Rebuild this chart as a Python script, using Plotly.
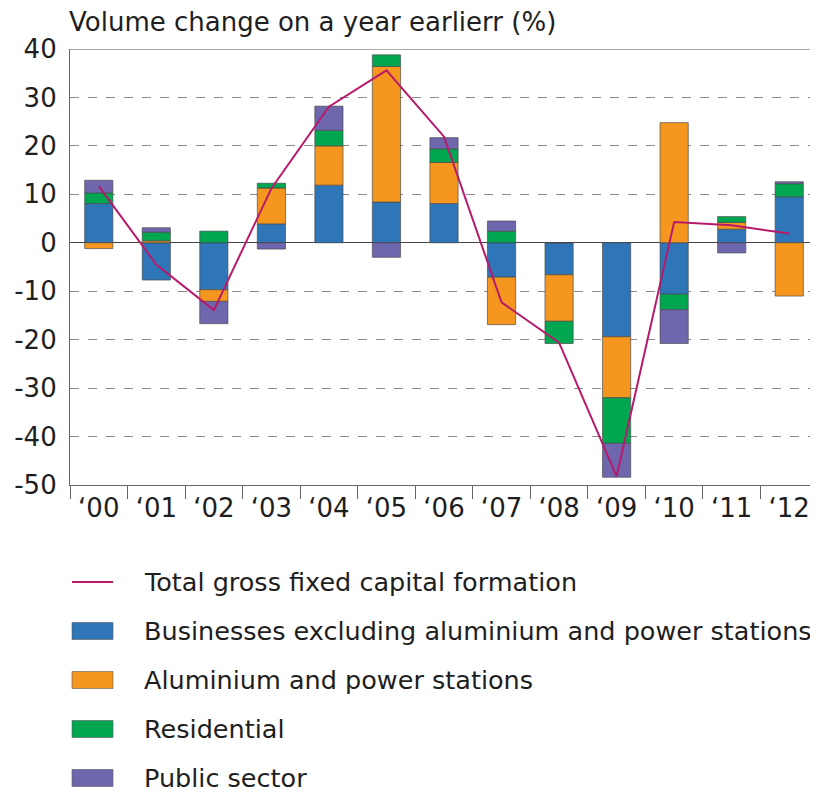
import plotly.graph_objects as go

years = ["‘00", "‘01", "‘02", "‘03", "‘04", "‘05", "‘06", "‘07", "‘08", "‘09", "‘10", "‘11", "‘12"]
total = [11.7, -4.5, -13.9, 11.2, 28.1, 35.6, 21.9, -12.3, -20.6, -48.2, 4.3, 3.6, 1.9]
business = [8.1, -7.7, -9.7, 3.9, 11.9, 8.4, 8.1, -7.1, -6.6, -19.4, -10.6, 2.8, 9.5]
aluminium = [-1.2, 0.4, -2.4, 7.4, 8.1, 28.0, 8.5, -9.8, -9.6, -12.6, 24.8, 1.4, -11.0]
residential = [2.2, 1.8, 2.4, 1.0, 3.2, 2.4, 2.8, 2.4, -4.6, -9.4, -3.2, 1.2, 2.7]
public = [2.6, 0.9, -4.6, -1.3, 5.0, -3.0, 2.3, 2.1, 0.0, -7.0, -7.0, -2.1, 0.4]

y_tickvals = [40, 30, 20, 10, 0, -10, -20, -30, -40, -50]
y_ticktext = ["40", "30", "20", "10", "0", "-10", "-20", "-30", "-40", "-50"]

names = ["Businesses excluding aluminium and power stations",
         "Aluminium and power stations", "Residential", "Public sector"]
line_name = "Total gross fixed capital formation"
title_text = "Volume change on a year earlierr (%)"
colors = ["#2E76B8", "#F5961F", "#00A650", "#6E67AD"]
series = [business, aluminium, residential, public]
line_color = "#B81A6B"
FONT = "DejaVu Sans"

# page body has an 8px margin, so the figure is drawn at (8, 8) in the window
OFF = 8
W, H = 818, 794
ML, MT, MR = 70 - OFF, 49 - OFF, OFF
MB = H - (485 - OFF)
PH = H - MT - MB
PW = W - ML - MR


def px_to_paper_x(px):
    return (px - OFF - ML) / PW


def px_to_paper_y(py):
    return (H - MB - (py - OFF)) / PH


fig = go.Figure()

for nm, col, vals in zip(names, colors, series):
    fig.add_trace(go.Bar(
        x=years, y=vals, name=nm, showlegend=False,
        marker=dict(color=col, line=dict(color="rgba(70,70,70,0.65)", width=1)),
    ))

fig.add_trace(go.Scatter(
    x=years, y=total, mode="lines", name=line_name, showlegend=False,
    line=dict(color=line_color, width=2),
))

# top frame line
fig.add_shape(type="line", xref="paper", yref="y", x0=0, x1=1, y0=40, y1=40,
              line=dict(color="#555555", width=1.2))

# title
fig.add_annotation(text=title_text, xref="paper", yref="paper",
                   x=0, y=1, xanchor="left", yanchor="middle", xshift=-3, yshift=27,
                   showarrow=False, font=dict(family=FONT, size=26, color="#1e1e1e"))

# manual legend
row_y = [582, 631, 680, 729, 778]
sx0, sx1, tx = 72, 113, 142
legend_labels = [line_name] + names
for i, lab in enumerate(legend_labels):
    yc = px_to_paper_y(row_y[i])
    if i == 0:
        fig.add_shape(type="line", xref="paper", yref="paper",
                      x0=px_to_paper_x(sx0), x1=px_to_paper_x(sx1), y0=yc, y1=yc,
                      line=dict(color=line_color, width=2))
    else:
        fig.add_shape(type="rect", xref="paper", yref="paper",
                      x0=px_to_paper_x(sx0), x1=px_to_paper_x(sx1),
                      y0=px_to_paper_y(row_y[i] + 8.5), y1=px_to_paper_y(row_y[i] - 8.5),
                      fillcolor=colors[i - 1], line=dict(color="rgba(90,90,90,0.6)", width=1))
    fig.add_annotation(text=lab, xref="paper", yref="paper",
                       x=px_to_paper_x(tx), y=yc, xanchor="left", yanchor="middle",
                       showarrow=False, font=dict(family=FONT, size=25.5, color="#1e1e1e"))

fig.update_layout(
    width=W, height=H,
    margin=dict(l=ML, r=MR, t=MT, b=MB),
    paper_bgcolor="white", plot_bgcolor="white",
    barmode="relative", bargap=0.51, showlegend=False,
    font=dict(family=FONT, size=25, color="#1e1e1e"),
    xaxis=dict(
        type="category", showline=True, linecolor="#666666", linewidth=1.2,
        ticks="outside", tickson="boundaries", ticklen=13, tickcolor="#666666",
        tickfont=dict(family=FONT, size=26, color="#1e1e1e"), tickangle=0,
        showgrid=False, fixedrange=True, automargin=False,
    ),
    yaxis=dict(
        range=[-50, 40], tickvals=y_tickvals, ticktext=y_ticktext,
        showline=True, linecolor="#666666", linewidth=1.2,
        ticks="", ticklabelstandoff=7, automargin=False,
        showgrid=True, gridcolor="#8a8a8a", griddash="dash", gridwidth=1,
        zeroline=True, zerolinecolor="#444444", zerolinewidth=1,
        tickfont=dict(family=FONT, size=26, color="#1e1e1e"),
    ),
)

fig.write_html("out.html")
